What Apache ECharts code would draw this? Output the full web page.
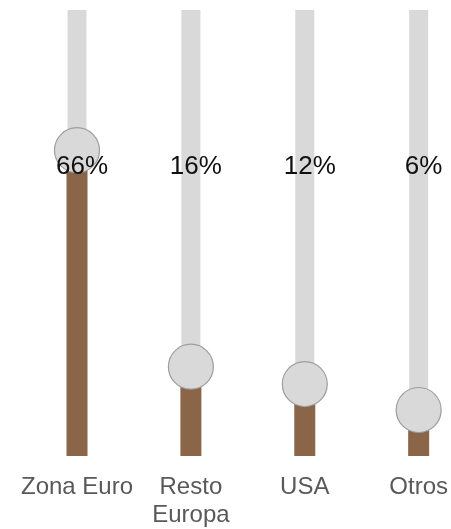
<!DOCTYPE html>
<html>
<head>
<meta charset="utf-8">
<script src="https://cdn.jsdelivr.net/npm/echarts@6/dist/echarts.min.js"></script>
<style>
html,body{margin:0;padding:0;background:#fff;}
#c{width:451px;height:529px;}
</style>
</head>
<body>
<div id="c"></div>
<script>
var categories = ['Zona Euro', 'Resto\nEuropa', 'USA', 'Otros'];
var shares = [66, 16, 12, 6];
var shareLabels = ['66%', '16%', '12%', '6%'];
var axisMax = 103;

var chart = echarts.init(document.getElementById('c'), null, {renderer: 'canvas'});
var FONT = '"Liberation Sans", Arial, sans-serif';
var full = shares.map(function () { return axisMax; });
chart.setOption({
  animation: false,
  grid: {left: 77, right: 31, top: 10, bottom: 69},
  xAxis: {
    type: 'category',
    data: categories,
    boundaryGap: false,
    axisLine: {show: false},
    axisTick: {show: false},
    splitLine: {show: false},
    axisLabel: {
      interval: 0,
      margin: 17,
      color: '#595959',
      fontSize: 24,
      lineHeight: 28,
      fontFamily: FONT
    }
  },
  yAxis: {
    type: 'value',
    min: 0,
    max: axisMax,
    show: false
  },
  series: [
    {
      type: 'bar',
      z: 1,
      barWidth: 19,
      barGap: '-100%',
      silent: true,
      data: full,
      itemStyle: {color: '#d9d9d9'}
    },
    {
      type: 'pictorialBar',
      z: 2,
      symbol: 'rect',
      symbolSize: [21, '100%'],
      symbolPosition: 'start',
      data: shares,
      itemStyle: {color: '#8b6548'}
    },
    {
      type: 'scatter',
      z: 3,
      symbol: 'circle',
      symbolSize: 45,
      symbolOffset: [0, -20],
      data: shares,
      itemStyle: {color: '#d9d9d9', borderColor: '#9e9e9e', borderWidth: 1.2, opacity: 1}
    },
    {
      type: 'bar',
      z: 5,
      barWidth: 19,
      barGap: '-100%',
      silent: true,
      data: full,
      itemStyle: {color: 'rgba(0,0,0,0)'},
      label: {
        show: true,
        position: ['50%', 157],
        align: 'center',
        verticalAlign: 'middle',
        offset: [5, 0],
        fontSize: 26,
        fontFamily: FONT,
        color: '#111111',
        formatter: function (p) { return shareLabels[p.dataIndex]; }
      }
    }
  ]
});
</script>
</body>
</html>
